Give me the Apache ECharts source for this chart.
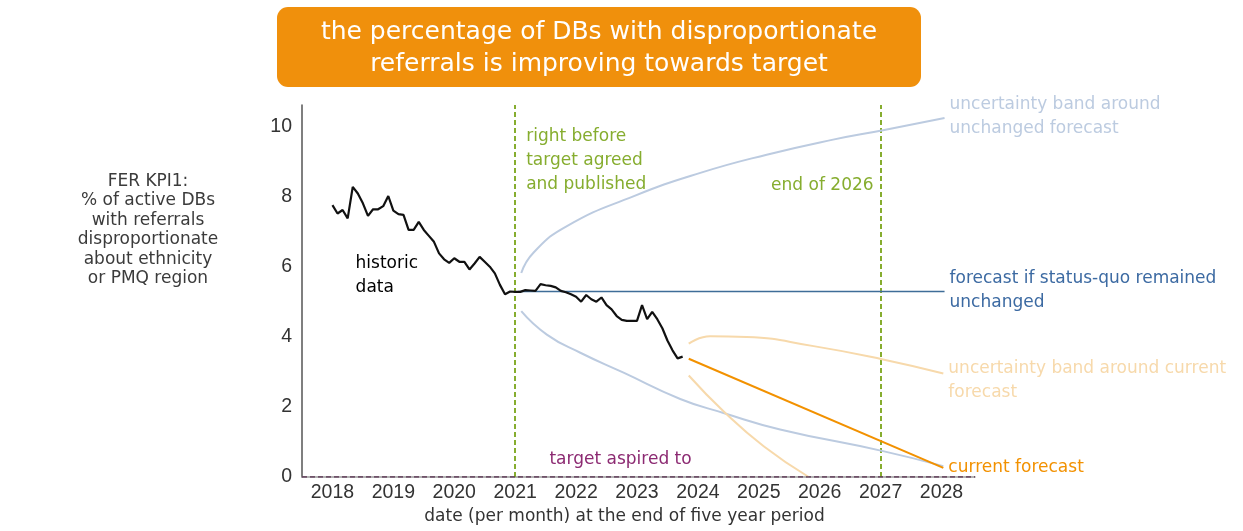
<!DOCTYPE html>
<html>
<head>
<meta charset="utf-8">
<script src="https://cdn.jsdelivr.net/npm/echarts@6/dist/echarts.min.js"></script>
<style>
  html, body { margin: 0; padding: 0; background: #ffffff; }
  #chart { width: 1243px; height: 531px; }
</style>
</head>
<body>
<div id="chart"></div>
<script>
// FER KPI1: % of active DBs with referrals disproportionate about ethnicity or PMQ region

// Monthly historic values, first month = January 2018
const historicStartYear = 2018;
const historicMonthly = [
  7.77, 7.53, 7.63, 7.39, 8.29, 8.10, 7.82, 7.46, 7.65, 7.65, 7.74, 8.03,
  7.61, 7.51, 7.49, 7.06, 7.06, 7.29, 7.06, 6.89, 6.72, 6.39, 6.22, 6.12,
  6.25, 6.15, 6.15, 5.93, 6.10, 6.29, 6.15, 6.01, 5.82, 5.49, 5.22, 5.30,
  5.29, 5.29, 5.34, 5.33, 5.32, 5.51, 5.48, 5.46, 5.42, 5.32, 5.28, 5.22,
  5.15, 5.01, 5.20, 5.08, 5.01, 5.13, 4.91, 4.79, 4.60, 4.49, 4.46, 4.46,
  4.46, 4.91, 4.51, 4.72, 4.51, 4.25, 3.90, 3.62, 3.39, 3.44
];

// Forecasts: [decimal year, value]
const statusQuo = [[2021.05, 5.3], [2028.05, 5.3]];
const unchangedUpper = [
  [2021.10, 5.83], [2021.30, 6.41], [2021.85, 7.17], [2022.94, 8.02], [2024.04, 8.69],
  [2025.13, 9.21], [2026.22, 9.64], [2027.04, 9.91], [2028.05, 10.26]
];
const unchangedLower = [
  [2021.10, 4.74], [2021.52, 4.07], [2022.07, 3.55], [2022.78, 2.98], [2023.71, 2.23],
  [2024.42, 1.83], [2025.35, 1.36], [2027.04, 0.74], [2028.03, 0.31]
];
const currentForecast = [[2023.85, 3.38], [2028.03, 0.26]];
const currentUpper = [
  [2023.85, 3.81], [2024.20, 4.02], [2024.80, 4.00], [2025.90, 3.74], [2027.04, 3.36], [2028.03, 2.96]
];
const currentLower = [[2023.85, 2.90], [2024.42, 1.88], [2025.08, 0.88], [2025.82, 0.0]];
const targetLevel = [[2017.5, 0], [2028.55, 0]];
const milestoneYears = [2021, 2027];

const FONT = '"DejaVu Sans", Verdana, sans-serif';
const TICK_FONT = '"Liberation Sans", Arial, sans-serif';
const C = {
  historic: '#111111',
  statusQuo: '#3f6d98',
  statusQuoText: '#3c6aa2',
  blueBand: '#bccbe0',
  orange: '#f29100',
  peach: '#f7d9ab',
  green: '#86ad2f',
  target: '#8c2a72',
  axis: '#555555',
  text: '#333333'
};

const chart = echarts.init(document.getElementById('chart'), null, { renderer: 'canvas' });

const historicXY = historicMonthly.map((v, i) => [historicStartYear + i / 12, v]);

function bandLine(name, data, color, width, label) {
  const s = {
    name, type: 'line', data, smooth: true, symbol: 'none', z: 3,
    lineStyle: { color, width }
  };
  if (label) {
    s.endLabel = Object.assign({
      show: true, fontFamily: FONT, fontSize: 17, lineHeight: 24, distance: 5
    }, label);
  }
  return s;
}

chart.setOption({
  animation: false,
  backgroundColor: '#ffffff',
  grid: { left: 302, right: 268, top: 105, bottom: 54, containLabel: false, outerBoundsMode: 'none' },
  xAxis: {
    type: 'value', min: 2017.5, max: 2028.55, minInterval: 1, maxInterval: 1,
    name: 'date (per month) at the end of five year period',
    nameLocation: 'middle', nameGap: 28,
    nameTextStyle: { fontFamily: FONT, fontSize: 17, color: C.text, padding: [0, 28, 0, 0] },
    axisLine: { show: true, lineStyle: { color: '#9a9a9a', width: 1.5 } },
    axisTick: { show: false },
    splitLine: { show: false },
    axisLabel: {
      fontFamily: TICK_FONT, fontSize: 19.5, color: C.text, margin: 6,
      showMinLabel: false, showMaxLabel: false,
      formatter: v => (Number.isInteger(v) ? String(v) : '')
    }
  },
  yAxis: {
    type: 'value', min: 0, max: 10.63, interval: 2,
    axisLine: { show: true, lineStyle: { color: C.axis, width: 1.5 } },
    axisTick: { show: false },
    splitLine: { show: false },
    axisLabel: {
      fontFamily: TICK_FONT, fontSize: 19.5, color: C.text, margin: 10,
      showMaxLabel: false,
      formatter: v => (Number.isInteger(v) ? String(v) : '')
    }
  },
  series: [
    {
      name: 'target aspired to', type: 'line', data: targetLevel, symbol: 'none', z: 4,
      lineStyle: { color: '#5a3352', width: 1.5, type: [5, 3] },
      markLine: {
        silent: true, symbol: 'none', z: 1,
        label: { show: false },
        lineStyle: { color: C.green, width: 2, type: [5, 3] },
        data: milestoneYears.map(y => ({ xAxis: y }))
      }
    },
    bandLine('uncertainty band around unchanged forecast', unchangedUpper, C.blueBand, 2, {
      formatter: 'uncertainty band around\nunchanged forecast', color: C.blueBand, offset: [0, -1]
    }),
    bandLine('unchanged lower', unchangedLower, C.blueBand, 2),
    bandLine('uncertainty band around current forecast', currentUpper, C.peach, 2, {
      formatter: 'uncertainty band around current\nforecast', color: C.peach, offset: [0, 7]
    }),
    bandLine('current lower', currentLower, C.peach, 2),
    {
      name: 'forecast if status-quo remained unchanged', type: 'line', data: statusQuo,
      symbol: 'none', z: 4, lineStyle: { color: C.statusQuo, width: 1.5 },
      endLabel: {
        show: true, formatter: 'forecast if status-quo remained\nunchanged',
        color: C.statusQuoText, fontFamily: FONT, fontSize: 17, lineHeight: 24, distance: 5, offset: [0, -1]
      }
    },
    {
      name: 'historic data', type: 'line', data: historicXY, symbol: 'none', z: 5,
      lineStyle: { color: C.historic, width: 2.2 }
    },
    {
      name: 'current forecast', type: 'line', data: currentForecast, symbol: 'none', z: 5,
      lineStyle: { color: C.orange, width: 2 },
      endLabel: {
        show: true, formatter: 'current forecast', color: C.orange,
        fontFamily: FONT, fontSize: 17, distance: 5, offset: [0, 0]
      }
    }
  ]
});

// Annotations anchored to data coordinates
const px = (x, y) => chart.convertToPixel({ gridIndex: 0 }, [x, y]);
const pAgreed = px(milestoneYears[0], 9.72);
const pEnd = px(milestoneYears[1], 8.33);
const pHist = px(2018.38, 6.10);
const pTarget = px(2022.73, 0.49);

function note(x, y, text, fill, align, vAlign, extra) {
  return {
    type: 'text', x, y, silent: true, z: 10,
    style: Object.assign({
      text, fill, align, verticalAlign: vAlign,
      font: '17px ' + FONT, lineHeight: 24
    }, extra || {})
  };
}

chart.setOption({
  graphic: [
    {
      type: 'rect', silent: true, z: 1,
      shape: { x: 277, y: 7, width: 644, height: 80, r: 11 },
      style: { fill: '#f0900c' }
    },
    note(599, 48, 'the percentage of DBs with disproportionate\nreferrals is improving towards target',
      '#ffffff', 'center', 'middle', { font: '25px ' + FONT, lineHeight: 32 }),
    note(148, 230, 'FER KPI1:\n% of active DBs\nwith referrals\ndisproportionate\nabout ethnicity\nor PMQ region',
      '#3b3b3b', 'center', 'middle', { lineHeight: 19.5 }),
    note(pAgreed[0] + 11, pAgreed[1] - 12, 'right before\ntarget agreed\nand published', C.green, 'left', 'top'),
    note(pEnd[0] - 7, pEnd[1], 'end of 2026', C.green, 'right', 'middle'),
    note(pHist[0], pHist[1] - 12, 'historic\ndata', '#000000', 'left', 'top'),
    note(pTarget[0], pTarget[1], 'target aspired to', C.target, 'center', 'middle')
  ]
});
</script>
</body>
</html>
